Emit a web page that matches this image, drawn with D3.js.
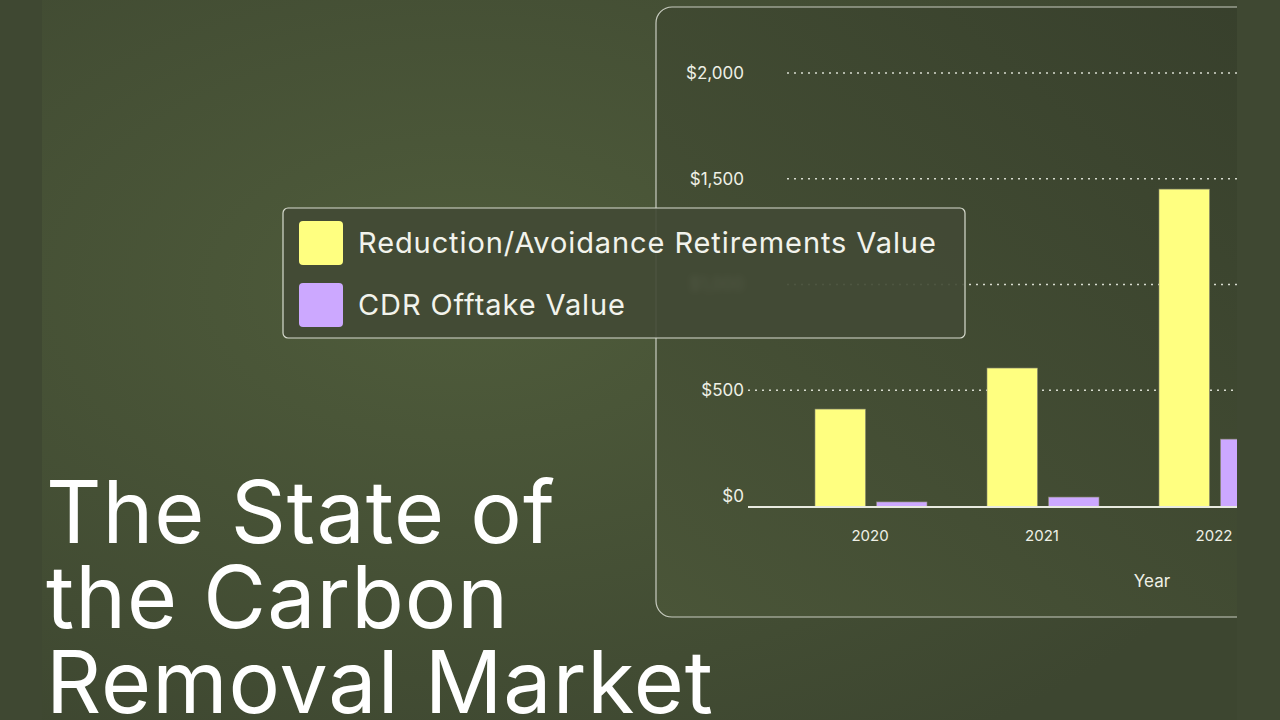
<!DOCTYPE html>
<html><head><meta charset="utf-8">
<script src="https://cdn.jsdelivr.net/npm/d3@7"></script>
<style>body{margin:0;background:#3e4731;overflow:hidden}svg{display:block;font-family:Inter,"DejaVu Sans",sans-serif}</style>
</head><body><svg id="chart" width="1280" height="720"></svg>
<script>
const years = ["2020", "2021", "2022"];
const reductionValues = [463, 657, 1503];
const cdrValues = [24, 47, 321];
const seriesNames = ["Reduction/Avoidance Retirements Value", "CDR Offtake Value"];
const seriesColors = ["#ffff80", "#cca8ff"];
const yTicks = [0, 500, 1000, 1500, 2000];
const titleLines = ["The State of", "the Carbon", "Removal Market"];

const svg = d3.select("#chart");
const defs = svg.append("defs");
const bg = defs.append("radialGradient").attr("id", "bg")
  .attr("cx", 0.35).attr("cy", 0.4).attr("r", 0.75);
bg.append("stop").attr("offset", "0%").attr("stop-color", "#4f5c3b");
bg.append("stop").attr("offset", "100%").attr("stop-color", "#3d4630");
defs.append("clipPath").attr("id", "clip").append("rect")
  .attr("x", 0).attr("y", 0).attr("width", 1237).attr("height", 720);
defs.append("filter").attr("id", "blur").append("feGaussianBlur").attr("stdDeviation", 3);

svg.append("rect").attr("width", 1280).attr("height", 720).attr("fill", "#3f4832");
svg.append("rect").attr("x", 42).attr("width", 1195).attr("height", 720).attr("fill", "url(#bg)");

const g = svg.append("g").attr("clip-path", "url(#clip)");
const panelGrad = defs.append("linearGradient").attr("id", "panel").attr("x1", 0).attr("y1", 1).attr("x2", 1).attr("y2", 0);
panelGrad.append("stop").attr("offset", "0%").attr("stop-color", "#4a5538");
panelGrad.append("stop").attr("offset", "100%").attr("stop-color", "#363e2b");
g.append("rect").attr("x", 656).attr("y", 7).attr("width", 700).attr("height", 610).attr("rx", 16)
  .attr("fill", "url(#panel)").attr("stroke", "#c8ccc0").attr("stroke-width", 1.2);

const y = d3.scaleLinear().domain([0, 2000]).range([496, 73]);
const baseShift = 11; // bars/axis sit a little below the $0 label
const x = d3.scaleBand().domain(years).range([784, 1300]).paddingInner(0);
const sub = d3.scaleBand().domain([0, 1]).range([31, 143]).paddingInner(0.18);

g.selectAll(".grid").data(yTicks.filter(d => d > 0)).join("line")
  .attr("x1", d => d === 500 ? 748 : 787).attr("x2", 1237)
  .attr("y1", d => y(d)).attr("y2", d => y(d))
  .attr("stroke", "#d8dccf").attr("stroke-width", 1.3).attr("stroke-dasharray", "2,5");

g.selectAll(".ylab").data(yTicks).join("text")
  .attr("x", 744).attr("y", d => y(d)).attr("dy", "0.35em").attr("text-anchor", "end")
  .attr("fill", "#eef0e6").attr("font-size", 17).text(d => d3.format("$,")(d))
  .attr("filter", d => d === 1000 ? "url(#blur)" : null);

const rows = years.map((yr, i) => ({ yr, vals: [reductionValues[i], cdrValues[i]] }));
g.selectAll(".grp").data(rows).join("g").attr("transform", d => `translate(${x(d.yr)},${baseShift})`)
  .selectAll("rect").data(d => d.vals.map((v, k) => ({ v, k }))).join("rect")
  .attr("x", d => sub(d.k)).attr("width", sub.bandwidth())
  .attr("y", d => y(d.v)).attr("height", d => y(0) - y(d.v))
  .attr("fill", d => seriesColors[d.k]).attr("stroke", "#8a8a70").attr("stroke-width", 0.6);

g.append("line").attr("x1", 748).attr("x2", 1237).attr("y1", y(0) + baseShift).attr("y2", y(0) + baseShift)
  .attr("stroke", "#e8eae0").attr("stroke-width", 2);

g.selectAll(".xlab").data(years).join("text")
  .attr("x", d => x(d) + 86).attr("y", 541).attr("text-anchor", "middle")
  .attr("fill", "#eef0e6").attr("font-size", 15).text(d => d);
g.append("text").attr("x", 1152).attr("y", 587).attr("text-anchor", "middle")
  .attr("fill", "#eef0e6").attr("font-size", 17).text("Year");

const lg = svg.append("g").attr("transform", "translate(283,208)");
lg.append("rect").attr("width", 682).attr("height", 130).attr("rx", 5)
  .attr("fill", "#424a35").attr("fill-opacity", 0.92).attr("stroke", "#d8dccf").attr("stroke-width", 1.2);
lg.selectAll(".item").data(seriesNames).join("g")
  .attr("transform", (d, i) => `translate(16,${13 + i * 62})`)
  .each(function (d, i) {
    const s = d3.select(this);
    s.append("rect").attr("width", 44).attr("height", 44).attr("rx", 4).attr("fill", seriesColors[i]);
    s.append("text").attr("x", 59).attr("y", 22).attr("dy", "0.35em")
      .attr("fill", "#f2f3ec").attr("font-size", 29).attr("letter-spacing", "0.9").text(d);
  });

svg.selectAll(".title").data(titleLines).join("text")
  .attr("x", 46).attr("y", (d, i) => 543 + i * 85)
  .attr("fill", "#ffffff").attr("font-size", 86).attr("font-weight", 400)
  .attr("letter-spacing", "1").text(d => d);
</script></body></html>
